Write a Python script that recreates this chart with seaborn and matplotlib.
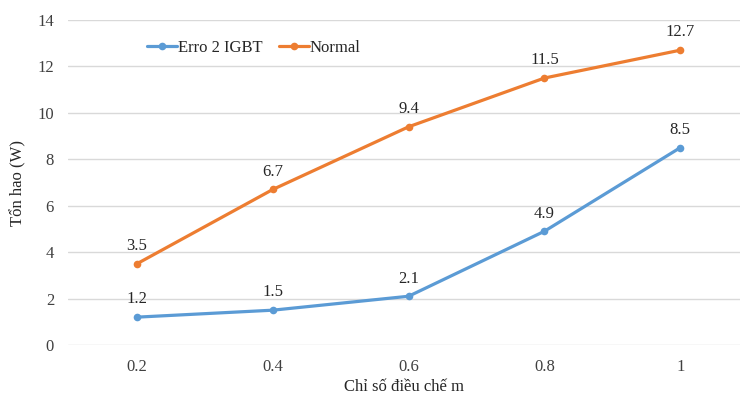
import matplotlib
matplotlib.use("Agg")
import matplotlib.pyplot as plt
import seaborn as sns
import pandas as pd

categories = ["0.2", "0.4", "0.6", "0.8", "1"]
erro_2_igbt = [1.2, 1.5, 2.1, 4.9, 8.5]
normal = [3.5, 6.7, 9.4, 11.5, 12.7]
series_names = ["Erro 2 IGBT", "Normal"]
colors = ["#5B9BD5", "#ED7D31"]

df = pd.DataFrame({
    "m": categories * 2,
    "loss": erro_2_igbt + normal,
    "series": [series_names[0]] * len(categories) + [series_names[1]] * len(categories),
})

sns.set_style("white")
plt.rcParams["font.family"] = ["Liberation Serif", "DejaVu Serif"]

fig = plt.figure(figsize=(7.4, 3.94), dpi=100)
ax = fig.add_axes([68 / 740, (394 - 345) / 394, 672 / 740, (345 - 20) / 394])

sns.lineplot(data=df, x="m", y="loss", hue="series", palette=colors,
             marker="o", markersize=5.5, markeredgewidth=0, linewidth=2.3,
             sort=False, ax=ax, legend=True)

for vals, c in zip([erro_2_igbt, normal], colors):
    for i, v in enumerate(vals):
        ax.annotate(f"{v:g}", (i, v), xytext=(0, 7), textcoords="offset points",
                    ha="center", va="bottom", fontsize=12, color="#262626")

ax.set_xlim(-0.508, 4.44)
ax.set_ylim(0, 14)
ax.set_yticks(range(0, 15, 2))
ax.yaxis.grid(True, color="#D9D9D9", linewidth=1)
ax.xaxis.grid(False)
for s in ax.spines.values():
    s.set_visible(False)
ax.tick_params(axis="both", length=0, labelsize=12, colors="#404040")
ax.tick_params(axis="y", pad=10)
ax.tick_params(axis="x", pad=10)
ax.set_xlabel("Chỉ số điều chế m", fontsize=12, color="#262626", labelpad=3)
ax.set_ylabel("Tổn hao (W)", fontsize=12, color="#262626", labelpad=8)

leg = ax.legend(loc="upper left", bbox_to_anchor=(0.095, 0.985), ncol=2, frameon=False,
                fontsize=12, handlelength=1.8, handletextpad=0.05, columnspacing=1.0)
for t in leg.get_texts():
    t.set_color("#262626")

fig.savefig("out.png", dpi=100)
